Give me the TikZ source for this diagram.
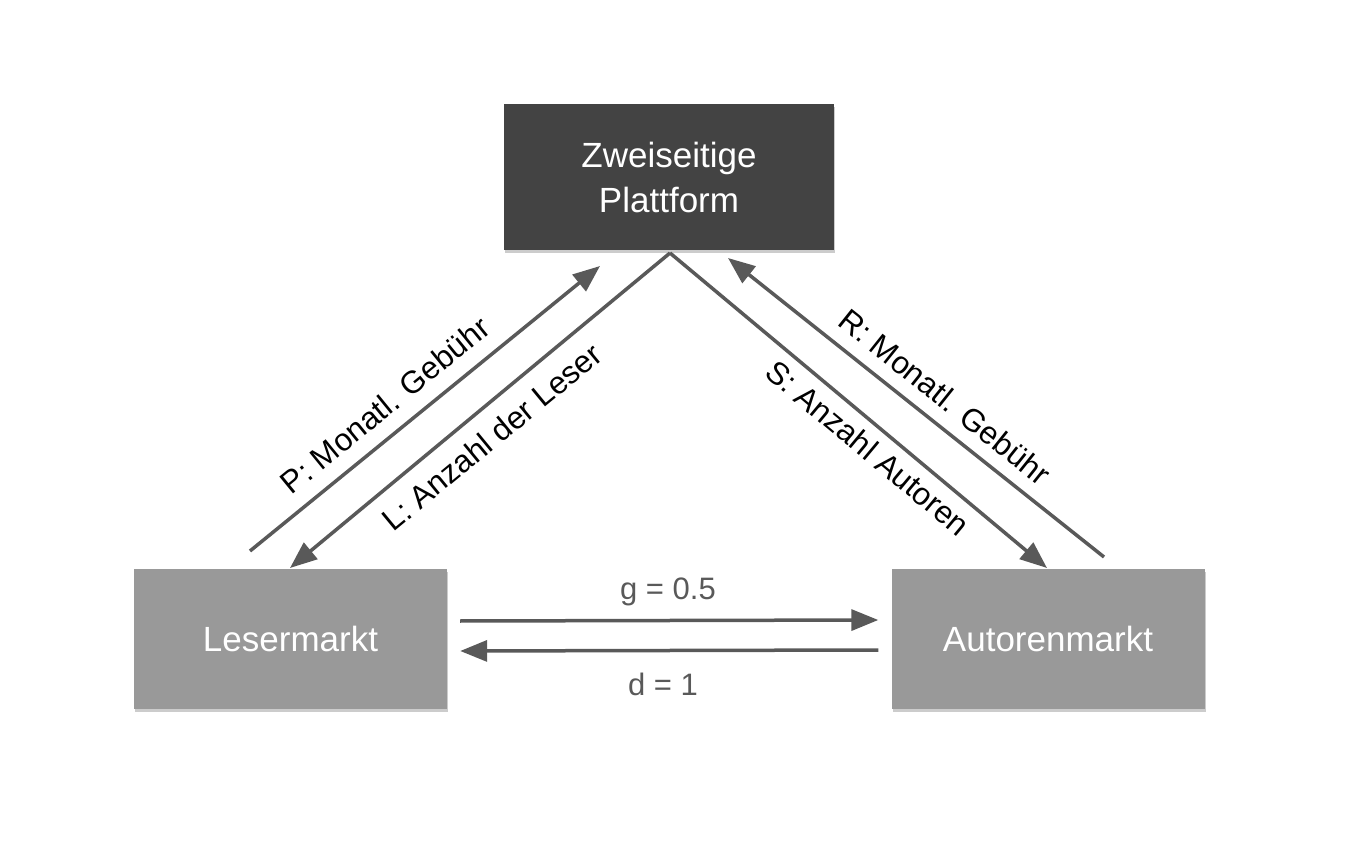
\documentclass[tikz,border=0pt]{standalone}
\usepackage{fontspec}
\setmainfont{Liberation Sans}
\usetikzlibrary{arrows.meta,shadows}
\definecolor{dark}{HTML}{434343}
\definecolor{mid}{HTML}{999999}
\definecolor{arr}{HTML}{595959}
\tikzset{
  box/.style={draw=none, minimum width=#1, text=white, inner sep=0pt, align=center,
    font=\fontsize{35}{45}\selectfont,
    drop shadow={shadow xshift=1pt, shadow yshift=-3pt, opacity=0.2, fill=black}},
  topbox/.style={box=330pt, minimum height=146pt, fill=dark},
  mktbox/.style={box=313pt, minimum height=140pt, fill=mid},
  conn/.style={draw=arr, line width=3.5pt, -{Triangle[length=27pt,width=21pt]}},
  dlabel/.style={font=\fontsize{31.5}{36}\selectfont, text=black, inner sep=0pt},
  hlabel/.style={font=\fontsize{31}{36}\selectfont, text=arr, inner sep=0pt}
}
\begin{document}
\begin{tikzpicture}[x=1pt,y=-1pt]
\useasboundingbox (0,0) rectangle (1366,866);
\node[topbox] (plat) at (669,177) {Zweiseitige\\Plattform};
\node[mktbox] (leser) at (290.5,639) {Lesermarkt};
\node[mktbox] (autor) at (1048,639) {Autorenmarkt};

\coordinate (pS) at (250,551);
\coordinate (pE) at (600,266);
\coordinate (apex) at (670,253);
\coordinate (lE) at (290,568);
\coordinate (sE) at (1047,568);
\coordinate (rS) at (1104,557);
\coordinate (rE) at (728,258);
\coordinate (gS) at ([xshift=13pt,yshift=18pt]leser.east);
\coordinate (gE) at ([xshift=-13pt,yshift=19pt]autor.west);
\coordinate (dS) at ([xshift=-13pt,yshift=-11pt]autor.west);
\coordinate (dE) at ([xshift=13pt,yshift=-12pt]leser.east);

\draw[conn] (pS) -- (pE);
\draw[conn] (apex) -- (lE);
\draw[conn] (apex) -- (sE);
\draw[conn] (rS) -- (rE);
\draw[conn] (gS) -- (gE);
\draw[conn] (dS) -- (dE);

\node[dlabel, rotate=39.2] (lp) at (385,405) {P: Monatl. Gebühr};
\node[dlabel, rotate=39.5] (ll) at (492,437) {L: Anzahl der Leser};
\node[dlabel, rotate=-39.8] (ls) at (868,448) {S: Anzahl Autoren};
\node[dlabel, rotate=-38.6] (lr) at (945,397) {R: Monatl. Gebühr};
\node[hlabel] (lg) at (668,592) {g = 0.5};
\node[hlabel] (ld) at (663,684) {d = 1};
\end{tikzpicture}
\end{document}
